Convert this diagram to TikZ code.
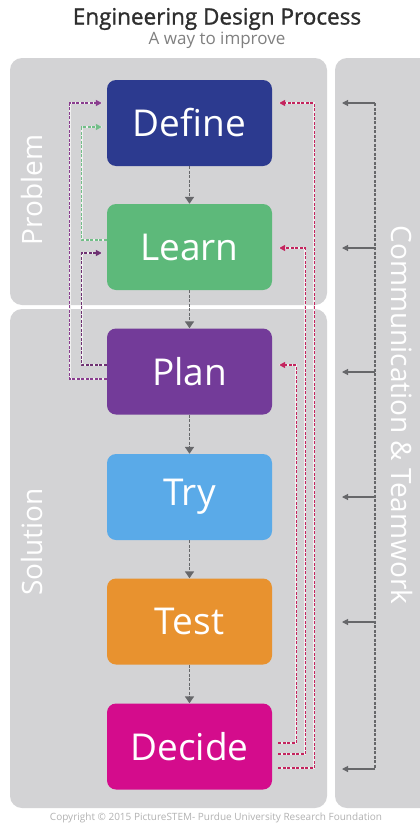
\documentclass[tikz,border=0pt]{standalone}
\usepackage{fontspec}
\setmainfont{Open Sans}
\newfontfamily\titlefont{Open Sans}[FakeBold=1.2]
\usetikzlibrary{arrows.meta}
\definecolor{panelgray}{HTML}{D3D3D5}
\definecolor{cdefine}{HTML}{2C3A8F}
\definecolor{clearn}{HTML}{5DB97A}
\definecolor{cplan}{HTML}{733B99}
\definecolor{ctry}{HTML}{5AAAE8}
\definecolor{ctest}{HTML}{E8922F}
\definecolor{cdecide}{HTML}{D40C8C}
\definecolor{arrowgray}{HTML}{66676A}
\definecolor{fbpurple}{HTML}{8A3D8F}
\definecolor{fbgreen}{HTML}{72BE88}
\definecolor{fbred}{HTML}{C4245E}
\definecolor{titlegray}{HTML}{2E2E2E}
\tikzset{
  stagebox/.style={rounded corners=9pt, minimum width=165pt, minimum height=86pt, inner sep=0pt, text=white, font=\fontsize{37}{40}\selectfont},
  downarrow/.style={draw=arrowgray, line width=1.7pt, dash pattern=on 3pt off 1.5pt, -{Triangle[width=9pt,length=7pt]}},
  fbline/.style={line width=1.2pt, dash pattern=on 3pt off 1.5pt, -{Triangle[width=6pt,length=6pt]},
    preaction={draw=white!65!panelgray, solid, line width=2.2pt, -}},
  commline/.style={draw=arrowgray, line width=1.1pt, dash pattern=on 3pt off 1.5pt},
  commarrow/.style={draw=arrowgray, line width=1.1pt, -{Triangle[width=6pt,length=6pt]}},
  sidelabel/.style={text=white, font=\fontsize{28}{32}\selectfont}
}
\begin{document}
\begin{tikzpicture}[x=1pt,y=-1pt]
\useasboundingbox (0,0) rectangle (420,827);
\fill[white] (0,0) rectangle (420,827);
\begin{scope}
\clip (0,0) rectangle (420,827);
% panels
\fill[panelgray, rounded corners=12pt] (10,58) rectangle (327,305);
\fill[panelgray, rounded corners=12pt] (10,309) rectangle (327,808);
\fill[panelgray, rounded corners=12pt] (335,58) rectangle (450,808);
\end{scope}

% titles
\node[text=titlegray, font=\titlefont\fontsize{22.5}{24}\selectfont] (title) at (217,19) {Engineering Design Process};
\node[text=gray, font=\fontsize{17}{19}\selectfont] (subtitle) at (217,40) {A way to improve};

% side labels
\node[sidelabel, rotate=90] (problem) at (32,190) {Problem};
\node[sidelabel, rotate=90] (solution) at (32,542) {Solution};
\node[sidelabel, rotate=-90] (comm) at (402,415) {Communication \& Teamwork};

% stages
\node[stagebox, fill=cdefine] (define) at (189.5,123) {Define};
\node[stagebox, fill=clearn] (learn) at (189.5,247) {Learn};
\node[stagebox, fill=cplan] (plan) at (189.5,371.5) {Plan};
\node[stagebox, fill=ctry] (try) at (189.5,497) {Try};
\node[stagebox, fill=ctest] (test) at (189.5,621.5) {Test};
\node[stagebox, fill=cdecide] (decide) at (189.5,746.5) {Decide};

% main flow
\draw[downarrow] (define) -- (learn);
\draw[downarrow] (learn) -- (plan);
\draw[downarrow] (plan) -- (try);
\draw[downarrow] (try) -- (test);
\draw[downarrow] (test) -- (decide);

% left feedback loops
\draw[fbline, draw=fbpurple, shorten >=5pt] ([yshift=-7.5pt]plan.west) -- ++(-37,0) |- ([yshift=20pt]define.west);
\draw[fbline, draw=fbpurple!80!black, shorten >=5pt] ([yshift=6.5pt]plan.west) -- ++(-25,0) |- ([yshift=-6pt]learn.west);
\draw[fbline, draw=fbgreen, shorten >=5pt] ([yshift=7pt]learn.west) -- ++(-25,0) |- ([yshift=-4pt]define.west);

% right feedback loops
\draw[fbline, draw=fbred, shorten >=7pt, shorten <=6pt] ([yshift=3.5pt]decide.east) -- ++(24,0) |- ([yshift=6.5pt]plan.east);
\draw[fbline, draw=fbred, shorten >=7pt, shorten <=6pt] ([yshift=-7.5pt]decide.east) -- ++(33,0) |- ([yshift=-1pt]learn.east);
\draw[fbline, draw=fbred, shorten >=7pt, shorten <=6pt] ([yshift=-21.5pt]decide.east) -- ++(42,0) |- ([yshift=20pt]define.east);

% communication
\coordinate (c1) at (375,103);
\coordinate (c2) at (375,248);
\coordinate (c3) at (375,372);
\coordinate (c4) at (375,497);
\coordinate (c5) at (375,622);
\coordinate (c6) at (375,769);
\coordinate (e1) at (342,103);
\coordinate (e2) at (342,248);
\coordinate (e3) at (342,372);
\coordinate (e4) at (342,497);
\coordinate (e5) at (342,622);
\coordinate (e6) at (342,769);
\draw[commline] (c1) -- (c6);
\foreach \i in {1,...,6} {\draw[commarrow] (c\i) -- (e\i);}

% copyright
\node[text=gray!60, font=\fontsize{10}{11}\selectfont] (copy) at (216,818) {Copyright \textcopyright{} 2015 PictureSTEM- Purdue University Research Foundation};
\end{tikzpicture}
\end{document}
